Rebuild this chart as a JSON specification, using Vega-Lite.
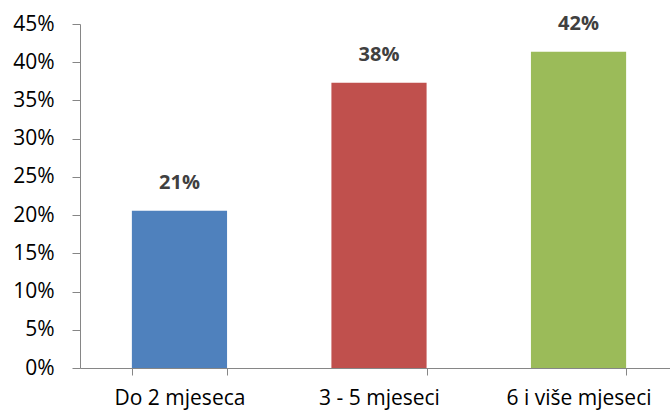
{
  "$schema": "https://vega.github.io/schema/vega-lite/v6.json",
  "autosize": {"type": "none"},
  "padding": {"left": 80, "top": 24, "right": 0, "bottom": 45},
  "width": 590,
  "height": 344,
  "background": "white",
  "config": {"view": {"stroke": null}, "font": "Open Sans"},
  "data": {"values": [
    {"category": "Do 2 mjeseca", "value": 0.2058, "label": "21%"},
    {"category": "3 - 5 mjeseci", "value": 0.3732, "label": "38%"},
    {"category": "6 i više mjeseci", "value": 0.4138, "label": "42%"}
  ]},
  "encoding": {
    "x": {"field": "category", "type": "nominal", "sort": null,
      "scale": {"range": [0, 598], "paddingInner": 0.523, "paddingOuter": 0.26},
      "axis": {"title": null, "labelAngle": 0, "domainColor": "#868686", "tickColor": "#868686",
        "tickBand": "extent", "tickSize": 7, "labelPadding": 12, "labelFontSize": 21, "labelColor": "#000000", "labelFont": "Open Sans"}},
    "y": {"field": "value", "type": "quantitative",
      "scale": {"domain": [0, 0.45], "nice": false},
      "axis": {"title": null, "format": ".0%", "values": [0, 0.05, 0.1, 0.15, 0.2, 0.25, 0.3, 0.35, 0.4, 0.45],
        "grid": false, "domainColor": "#868686", "tickColor": "#868686", "tickSize": 8, "labelPadding": 18,
        "labelFontSize": 21, "labelColor": "#000000", "labelFont": "Open Sans"}}
  },
  "layer": [
    {"mark": {"type": "bar"},
     "encoding": {"color": {"field": "category", "type": "nominal", "sort": null,
       "scale": {"domain": ["Do 2 mjeseca", "3 - 5 mjeseci", "6 i više mjeseci"], "range": ["#4F81BD", "#C0504D", "#9BBB59"]}, "legend": null}}},
    {"mark": {"type": "text", "dy": -28, "fontWeight": "bold", "fontSize": 20, "color": "#404040", "font": "Open Sans"},
     "encoding": {"text": {"field": "label"}}}
  ]
}
